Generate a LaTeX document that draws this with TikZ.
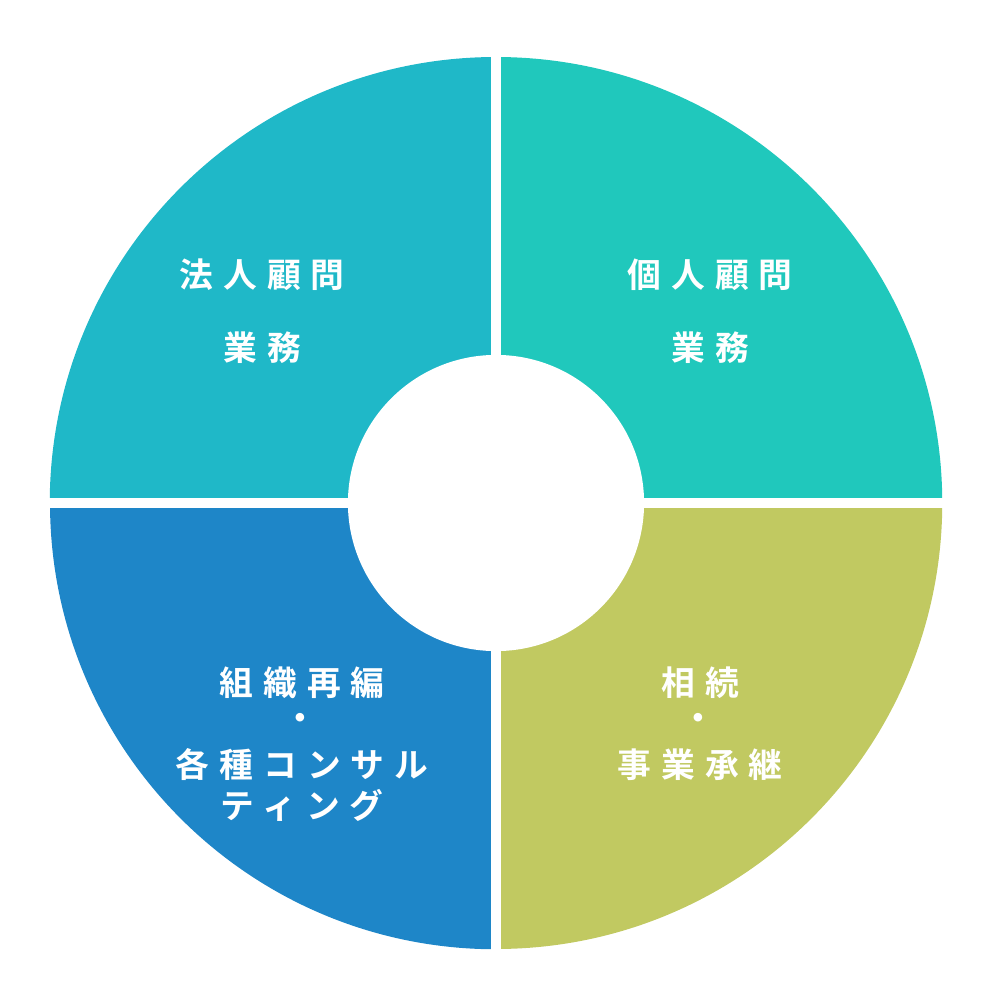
\documentclass[tikz,border=0pt]{standalone}
\usepackage{fontspec}
\newfontfamily\jp[LetterSpace=30]{Noto Sans CJK JP Bold}
\definecolor{ctl}{HTML}{1FB8C8}
\definecolor{ctr}{HTML}{20C8BC}
\definecolor{cbl}{HTML}{1E86C8}
\definecolor{cbr}{HTML}{C1C961}
\begin{document}
\begin{tikzpicture}[x=0.01cm,y=-0.01cm,
  lab/.style={text=white,font=\jp\fontsize{9.6pt}{11pt}\selectfont,inner sep=0pt}]
\useasboundingbox (0,0) rectangle (1000,1000);
\coordinate (c) at (496,503);
\fill[ctr] (c) -- ++(0,-446) arc[start angle=90,end angle=0,radius=4.46cm] -- cycle;
\fill[ctl] (c) -- ++(0,-446) arc[start angle=90,end angle=180,radius=4.46cm] -- cycle;
\fill[cbl] (c) -- ++(-446,0) arc[start angle=180,end angle=270,radius=4.46cm] -- cycle;
\fill[cbr] (c) -- ++(0,446) arc[start angle=270,end angle=360,radius=4.46cm] -- cycle;
\draw[white,line width=0.1cm] (c) ++(0,-450) coordinate (t) -- ++(0,900) coordinate (b);
\draw[white,line width=0.1cm] (c) ++(-450,0) coordinate (l) -- ++(900,0) coordinate (r);
\fill[white] (c) circle[radius=1.48cm];
\node[lab] (a1) at (262,275) {法人顧問};
\node[lab] (a2) at (262,348) {業務};
\node[lab] (b1) at (710,275) {個人顧問};
\node[lab] (b2) at (710,348) {業務};
\node[lab] (c1) at (302,683) {組織再編};
\node[lab] (c2) at (300,722) {・};
\node[lab] (c3) at (302,765) {各種コンサル};
\node[lab] (c4) at (302,805) {ティング};
\node[lab] (d1) at (700,683) {相続};
\node[lab] (d2) at (698,722) {・};
\node[lab] (d3) at (700,765) {事業承継};
\end{tikzpicture}
\end{document}
